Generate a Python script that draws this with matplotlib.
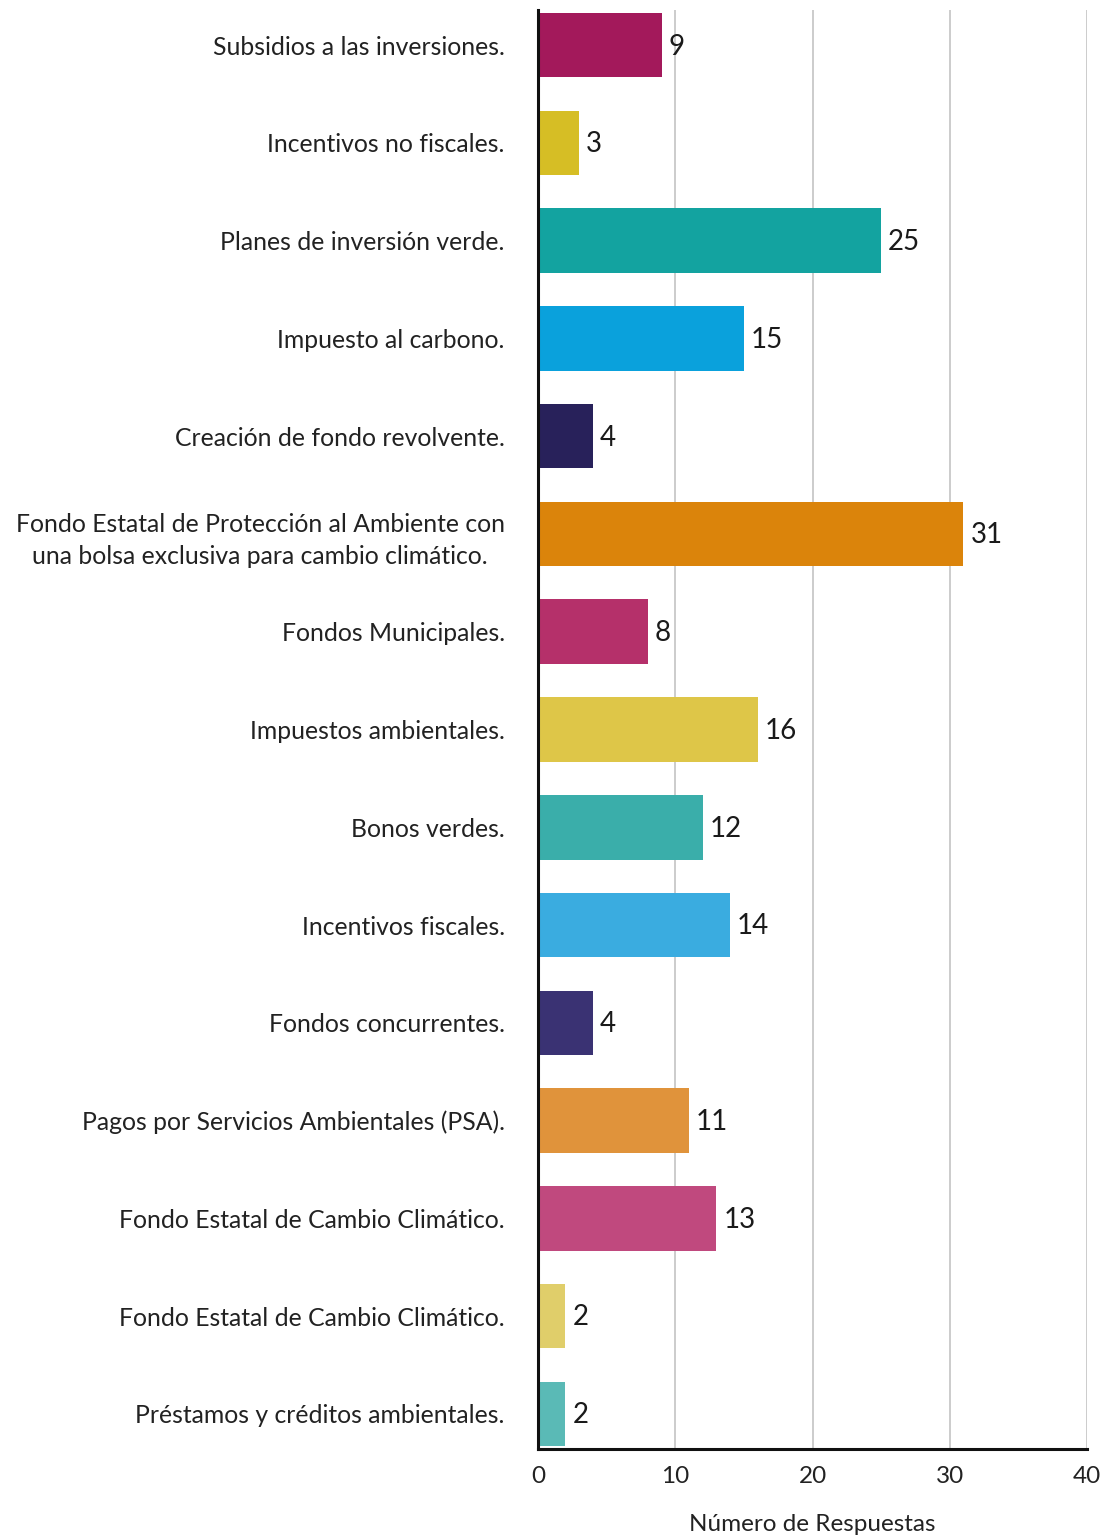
import matplotlib
matplotlib.use("Agg")
import matplotlib.pyplot as plt

categories = [
    "Subsidios a las inversiones.",
    "Incentivos no fiscales.",
    "Planes de inversión verde.",
    "Impuesto al carbono.",
    "Creación de fondo revolvente.",
    "Fondo Estatal de Protección al Ambiente con\nuna bolsa exclusiva para cambio climático.",
    "Fondos Municipales.",
    "Impuestos ambientales.",
    "Bonos verdes.",
    "Incentivos fiscales.",
    "Fondos concurrentes.",
    "Pagos por Servicios Ambientales (PSA).",
    "Fondo Estatal de Cambio Climático.",
    "Fondo Estatal de Cambio Climático.",
    "Préstamos y créditos ambientales.",
]
values = [9, 3, 25, 15, 4, 31, 8, 16, 12, 14, 4, 11, 13, 2, 2]
colors = ["#A3195B", "#D6BE25", "#13A3A0", "#0AA1DC", "#28215A", "#DB840B",
          "#B5306A", "#DEC648", "#3AAEAA", "#3AACE0", "#3A3273", "#E0933B",
          "#C0497E", "#E0CE6A", "#5ABAB6"]
xticks = [0, 10, 20, 30, 40]
xlabel = "Número de Respuestas"

plt.rcParams['font.family'] = ['Lato', 'DejaVu Sans']

fig = plt.figure(figsize=(11.09, 15.39), dpi=100)
ax = fig.add_axes([538/1109, 1 - 1449/1539, (1087-538)/1109, (1449-10)/1539])

pos = list(range(len(categories)))
ax.barh(pos, values, height=0.66, color=colors, zorder=3)
ax.set_ylim(len(categories) - 1 + 0.36, -0.36)
ax.set_xlim(0, 40)
ax.set_xticks(xticks)
ax.set_xticklabels([str(t) for t in xticks], fontsize=17.5, color="#222222")
ax.set_yticks(pos)
ax.set_yticklabels(categories, fontsize=17.8, color="#222222",
                   multialignment="center", linespacing=1.5)
ax.tick_params(axis='y', length=0, pad=24)
ax.tick_params(axis='x', length=0, pad=12)
ax.xaxis.grid(True, color="#c4c4c4", linewidth=1.2, zorder=0)
ax.set_axisbelow(True)
for s in ["top", "right"]:
    ax.spines[s].set_visible(False)
for s in ["left", "bottom"]:
    ax.spines[s].set_linewidth(2.2)
    ax.spines[s].set_color("#111111")
    ax.spines[s].set_zorder(4)

for p, v in zip(pos, values):
    ax.annotate(str(v), (v, p), xytext=(5, -1), textcoords="offset points",
                ha="left", va="center", fontsize=20, color="#1a1a1a")

ax.set_xlabel(xlabel, fontsize=17.5, color="#222222", labelpad=20)

fig.savefig("out.png", dpi=100, facecolor="white")
